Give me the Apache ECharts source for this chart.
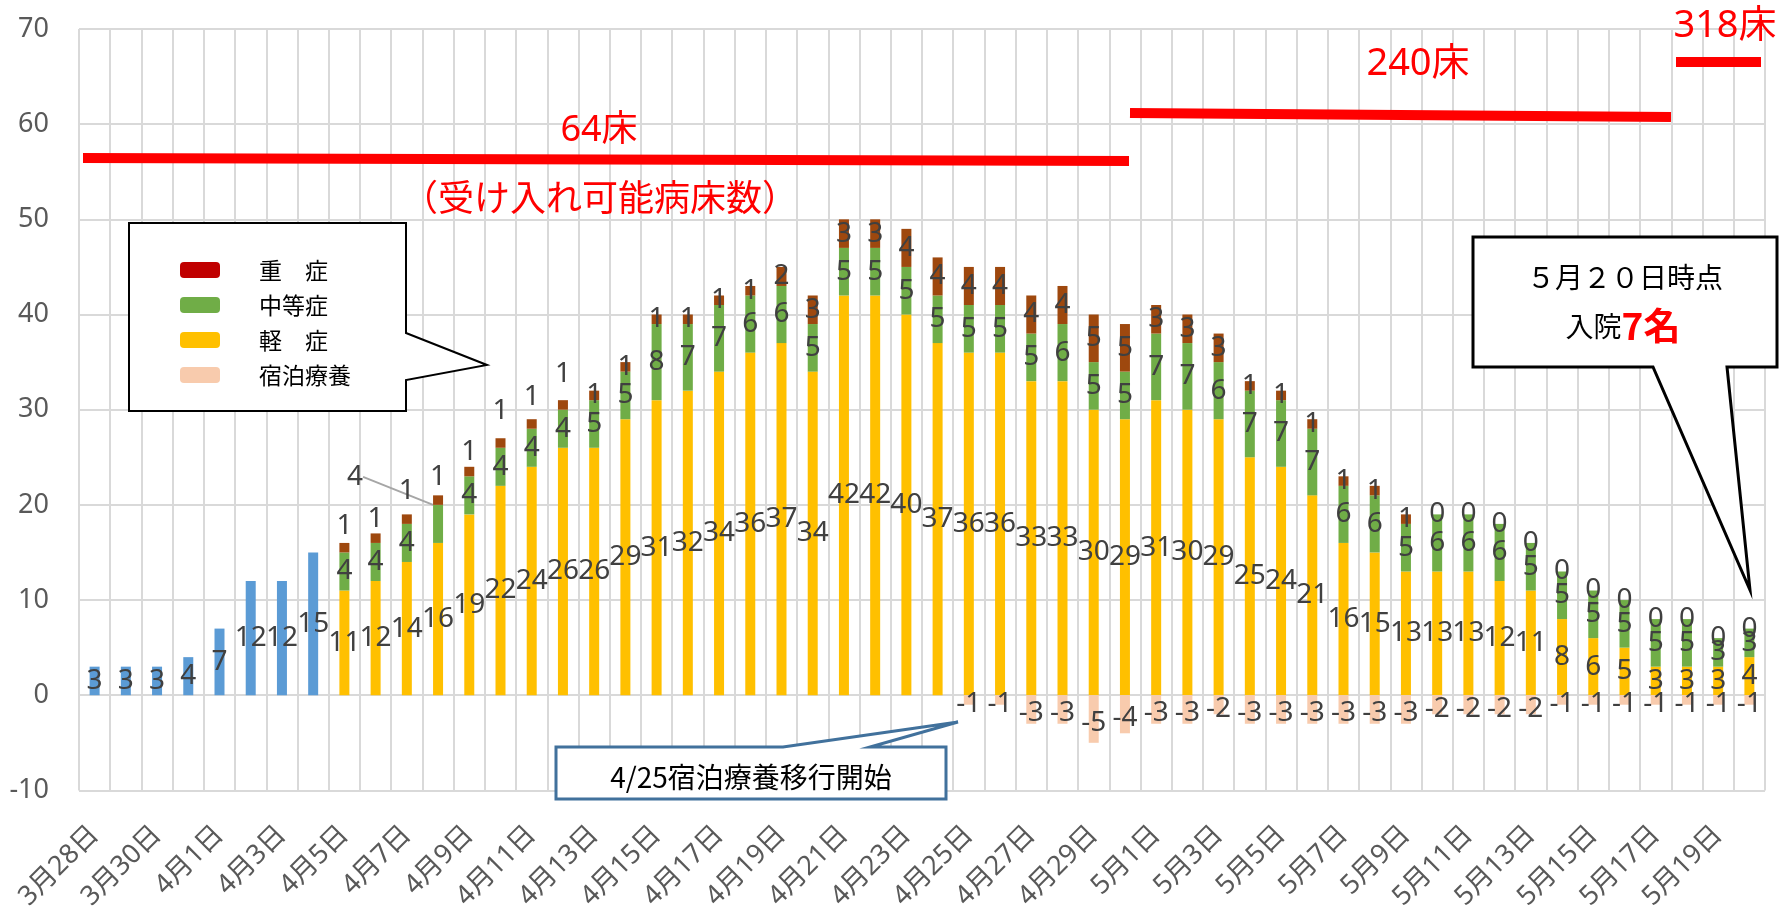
<!DOCTYPE html>
<html>
<head>
<meta charset="utf-8">
<script src="https://cdn.jsdelivr.net/npm/echarts@6/dist/echarts.min.js"></script>
<style>
html, body {margin: 0; padding: 0; background: #fff;}
#main {width: 1792px; height: 913px;}
</style>
</head>
<body>
<div id="main"></div>
<script>
var days = ['3月28日', '3月29日', '3月30日', '3月31日',
    '4月1日', '4月2日', '4月3日', '4月4日', '4月5日', '4月6日', '4月7日', '4月8日', '4月9日', '4月10日',
    '4月11日', '4月12日', '4月13日', '4月14日', '4月15日', '4月16日', '4月17日', '4月18日', '4月19日', '4月20日',
    '4月21日', '4月22日', '4月23日', '4月24日', '4月25日', '4月26日', '4月27日', '4月28日', '4月29日', '4月30日',
    '5月1日', '5月2日', '5月3日', '5月4日', '5月5日', '5月6日', '5月7日', '5月8日', '5月9日', '5月10日',
    '5月11日', '5月12日', '5月13日', '5月14日', '5月15日', '5月16日', '5月17日', '5月18日', '5月19日', '5月20日'];

// 3/28 - 4/4 : total only (no breakdown)
var earlyTotal = [3, 3, 3, 4, 7, 12, 12, 15];

// 4/5 - 5/20
var mild = [11, 12, 14, 16, 19, 22, 24, 26, 26, 29, 31, 32, 34, 36, 37, 34, 42, 42, 40, 37,
    36, 36, 33, 33, 30, 29, 31, 30, 29, 25, 24, 21, 16, 15, 13, 13, 13, 12, 11, 8,
    6, 5, 3, 3, 3, 4];
var moderate = [4, 4, 4, 4, 4, 4, 4, 4, 5, 5, 8, 7, 7, 6, 6, 5, 5, 5, 5, 5,
    5, 5, 5, 6, 5, 5, 7, 7, 6, 7, 7, 7, 6, 6, 5, 6, 6, 6, 5, 5,
    5, 5, 5, 5, 3, 3];
var severe = [1, 1, 1, 1, 1, 1, 1, 1, 1, 1, 1, 1, 1, 1, 2, 3, 3, 3, 4, 4,
    4, 4, 4, 4, 5, 5, 3, 3, 3, 1, 1, 1, 1, 1, 1, 0, 0, 0, 0, 0,
    0, 0, 0, 0, 0, 0];

// 4/25 - 5/20 (hotel recuperation, drawn below zero)
var hotel = [-1, -1, -3, -3, -5, -4, -3, -3, -2, -3, -3, -3, -3, -3, -3, -2, -2, -2, -2, -1,
    -1, -1, -1, -1, -1, -1];

var yTicks = {min: -10, max: 70, step: 10};

var numFont = "'Noto Sans', 'Noto Sans CJK JP', sans-serif";
var jpFont = "'Noto Sans CJK JP', 'Noto Sans', sans-serif";

function padTo(arr, start) {
    var out = [];
    for (var i = 0; i < days.length; i++) {
        var j = i - start;
        out.push(j >= 0 && j < arr.length ? arr[j] : '-');
    }
    return out;
}

var breakStart = days.indexOf('4月5日');
var hotelStart = days.indexOf('4月25日');

// early severe labels were dragged upward in the original sheet
var severeShift = {8: -22, 9: -19, 10: -28, 11: -23, 12: -20, 13: -32, 14: -27, 15: -31};
var movedModerate = days.indexOf('4月8日');

var moderateData = padTo(moderate, breakStart);
moderateData[movedModerate] = {
    value: moderateData[movedModerate],
    labelLine: {show: true, lineStyle: {color: '#A6A6A6', width: 2}}
};

var labelBase = {
    show: true,
    position: 'inside',
    color: '#404040',
    fontSize: 28,
    fontFamily: numFont
};

function barSeries(name, data, color, extra) {
    var s = {
        name: name,
        type: 'bar',
        stack: 'all',
        barWidth: 10,
        data: data,
        itemStyle: {color: color},
        label: labelBase,
        emphasis: {disabled: true}
    };
    for (var k in extra) s[k] = extra[k];
    return s;
}

var chart = echarts.init(document.getElementById('main'));

var option = {
    animation: false,
    grid: {left: 79, right: 27, top: 29, bottom: 122, containLabel: false},
    legend: {
        orient: 'vertical',
        left: 175,
        top: 250,
        z: 60,
        itemWidth: 40,
        itemHeight: 16,
        itemGap: 5,
        textStyle: {color: '#000', fontSize: 23, fontFamily: jpFont, padding: [0, 0, 0, 34], lineHeight: 30},
        data: [
            {name: '重　症', itemStyle: {color: '#C00000'}},
            {name: '中等症'},
            {name: '軽　症'},
            {name: '宿泊療養'}
        ]
    },
    xAxis: {
        type: 'category',
        data: days,
        axisLine: {show: false},
        axisTick: {show: false},
        axisLabel: {
            interval: 1,
            rotate: 45,
            margin: 40,
            color: '#595959',
            fontSize: 27,
            fontFamily: numFont
        },
        splitLine: {show: true, interval: 0, lineStyle: {color: '#D9D9D9', width: 2}}
    },
    yAxis: {
        type: 'value',
        min: yTicks.min,
        max: yTicks.max,
        interval: yTicks.step,
        axisLine: {show: false},
        axisTick: {show: false},
        axisLabel: {color: '#595959', fontSize: 27, fontFamily: numFont, margin: 30},
        splitLine: {lineStyle: {color: '#D9D9D9', width: 2}}
    },
    series: [
        barSeries('合計', padTo(earlyTotal, 0), '#5B9BD5'),
        barSeries('軽　症', padTo(mild, breakStart), '#FFC000'),
        barSeries('中等症', moderateData, '#70AD47', {
            labelLayout: function (p) {
                if (p.dataIndex === movedModerate) return {dx: -83, dy: -47};
            }
        }),
        barSeries('重　症', padTo(severe, breakStart), '#9E480E', {
            labelLayout: function (p) {
                if (severeShift[p.dataIndex]) return {dy: severeShift[p.dataIndex]};
            }
        }),
        barSeries('宿泊療養', padTo(hotel, hotelStart), '#F8CBAD', {
            labelLayout: function () {
                return {dy: 4};
            }
        })
    ],
    graphic: [
        // bed capacity lines
        {type: 'line', z: 40, shape: {x1: 83, y1: 158, x2: 1129, y2: 161}, style: {stroke: '#FF0000', lineWidth: 10}},
        {type: 'line', z: 40, shape: {x1: 1130, y1: 113, x2: 1671, y2: 117}, style: {stroke: '#FF0000', lineWidth: 10}},
        {type: 'line', z: 40, shape: {x1: 1676, y1: 62, x2: 1761, y2: 62}, style: {stroke: '#FF0000', lineWidth: 10}},
        {type: 'text', z: 40, x: 599, y: 131, style: {text: '64床', fill: '#FF0000', font: '36px ' + numFont, textAlign: 'center', textVerticalAlign: 'middle'}},
        {type: 'text', z: 40, x: 600, y: 197, style: {text: '（受け入れ可能病床数）', fill: '#FF0000', font: '36px ' + jpFont, textAlign: 'center', textVerticalAlign: 'middle'}},
        {type: 'text', z: 40, x: 1418, y: 64, style: {text: '240床', fill: '#FF0000', font: '38px ' + numFont, textAlign: 'center', textVerticalAlign: 'middle'}},
        {type: 'text', z: 40, x: 1725, y: 26, style: {text: '318床', fill: '#FF0000', font: '38px ' + numFont, textAlign: 'center', textVerticalAlign: 'middle'}},

        // legend callout
        {type: 'polygon', z: 50, shape: {points: [[129, 223], [406, 223], [406, 333], [487, 365], [406, 380], [406, 411], [129, 411]]},
            style: {fill: '#fff', stroke: '#000', lineWidth: 2}},

        // 5/20 callout
        {type: 'polygon', z: 50, shape: {points: [[1473, 237], [1777, 237], [1777, 367], [1727, 367], [1750, 590], [1653, 367], [1473, 367]]},
            style: {fill: '#fff', stroke: '#000', lineWidth: 3}},
        {type: 'text', z: 51, x: 1625, y: 277, style: {text: '５月２０日時点', fill: '#000', font: '28px ' + jpFont, textAlign: 'center', textVerticalAlign: 'middle'}},
        {type: 'text', z: 51, x: 1623, y: 326, style: {
            text: '{a|入院}{b|7名}', textAlign: 'center', textVerticalAlign: 'middle',
            rich: {
                a: {fill: '#000', fontSize: 28, fontFamily: jpFont},
                b: {fill: '#FF0000', fontSize: 37, fontWeight: 'bold', fontFamily: jpFont}
            }
        }},

        // 4/25 note
        {type: 'polygon', z: 50, shape: {points: [[556, 747], [783, 747], [958, 722], [870, 747], [946, 747], [946, 799], [556, 799]]},
            style: {fill: '#fff', stroke: '#41719C', lineWidth: 3}},
        {type: 'text', z: 51, x: 751, y: 777, style: {text: '4/25宿泊療養移行開始', fill: '#000', font: '28px ' + jpFont, textAlign: 'center', textVerticalAlign: 'middle'}}
    ]
};

chart.setOption(option);
</script>
</body>
</html>
